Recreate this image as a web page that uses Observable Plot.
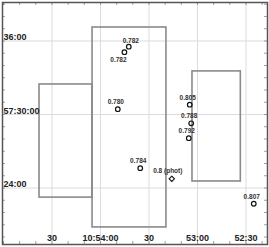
<!DOCTYPE html>
<html><head><meta charset="utf-8">
<script src="https://cdn.jsdelivr.net/npm/d3@7"></script>
<script src="https://cdn.jsdelivr.net/npm/@observablehq/plot@0.6"></script>
<style>
html,body{margin:0;padding:0;background:#fff;}
svg{display:block;font-family:"Liberation Sans",Arial,sans-serif;}
</style></head>
<body>
<div id="chart"></div>
<script>
// Targets (RA, Dec, redshift label)
const pointRA  = ["10:53:42.5","10:53:45.2","10:53:49.3","10:53:35.4","10:53:04.8","10:53:03.9","10:53:05.4","10:52:25.2"];
const pointDec = ["57:35:32","57:35:05","57:30:26","57:25:37","57:30:48","57:29:17","57:28:04","57:22:43"];
const pointLabel = ["0.782","0.782","0.780","0.784","0.805","0.788","0.792","0.807"];
// photometric source
const photRA = ["10:53:15.9"];
const photDec = ["57:24:45"];
const photLabel = ["0.8 (phot)"];
// field outlines
const fieldRA1 = ["10:54:37.7","10:54:04.9","10:53:03.1"];
const fieldRA2 = ["10:54:05.0","10:53:19.2","10:52:33.2"];
const fieldDec1 = ["57:23:13","57:20:47","57:24:32"];
const fieldDec2 = ["57:32:27","57:37:06","57:33:31"];
// axis ticks
const xTickRA = ["10:54:30","10:54:00","10:53:30","10:53:00","10:52:30"];
const xTickLabel = ["30","10:54:00","30","53:00","52:30"];
const yTickDec = ["57:36:00","57:30:00","57:24:00"];
const yTickLabel = ["36:00","57:30:00","24:00"];

const raSec = s => { const [h,m,x] = s.split(":").map(Number); return h*3600 + m*60 + x; };
const decMin = s => { const [d,m,x] = s.split(":").map(Number); return d*60 + m + x/60; };

const pts = pointRA.map((r,i) => ({x: raSec(r), y: decMin(pointDec[i]), label: pointLabel[i], i}));
const phot = photRA.map((r,i) => ({x: raSec(r), y: decMin(photDec[i]), label: photLabel[i]}));
const fields = fieldRA1.map((r,i) => ({x1: raSec(r), x2: raSec(fieldRA2[i]), y1: decMin(fieldDec1[i]), y2: decMin(fieldDec2[i])}));
const xt = xTickRA.map((r,i) => ({x: raSec(r), label: xTickLabel[i]}));
const yt = yTickDec.map((d,i) => ({y: decMin(d), label: yTickLabel[i]}));

const W = 269, H = 247, mL = 2, mR = 2, mT = 2, mB = 3;
const xDomain = [raSec("10:55:00.6"), raSec("10:52:16.7")];
const yDomain = [decMin("57:19:23.4"), decMin("57:39:08.4")];
const minorX = d3.range(Math.ceil(xDomain[1]/10)*10, xDomain[0], 10);
const minorY = d3.range(Math.ceil(yDomain[0]), yDomain[1], 1);
const innerH = H - mT - mB, innerW = W - mL - mR;

const chart = Plot.plot({
  width: W, height: H,
  marginLeft: mL, marginRight: mR, marginTop: mT, marginBottom: mB,
  x: {domain: xDomain, axis: null},
  y: {domain: yDomain, axis: null},
  style: {fontFamily: "Liberation Sans, Arial, sans-serif", background: "#fff"},
  marks: [
    Plot.ruleX(xt, {x: "x", stroke: "#dcdcdc", strokeWidth: 1}),
    Plot.ruleY(yt, {y: "y", stroke: "#dcdcdc", strokeWidth: 1}),
    Plot.ruleX(minorX, {stroke: "#888", strokeWidth: 0.8, insetBottom: innerH - 3}),
    Plot.ruleX(minorX, {stroke: "#888", strokeWidth: 0.8, insetTop: innerH - 3}),
    Plot.ruleY(minorY, {stroke: "#888", strokeWidth: 0.8, insetRight: innerW - 3}),
    Plot.ruleY(minorY, {stroke: "#888", strokeWidth: 0.8, insetLeft: innerW - 3}),
    Plot.rect(fields, {x1: "x1", x2: "x2", y1: "y1", y2: "y2", fill: "none", stroke: "#8a8a8a", strokeWidth: 1.6}),
    Plot.dot(pts, {x: "x", y: "y", r: 2.3, stroke: "#111", strokeWidth: 1.2, fill: "none"}),
    Plot.dot(phot, {x: "x", y: "y", r: 2.4, symbol: "diamond2", stroke: "#111", strokeWidth: 1.1, fill: "none"}),
    Plot.text(pts.filter(d => d.i > 1), {x: "x", y: "y", text: "label", dx: -2, dy: -7, fontSize: 6.5, fontWeight: 600, fill: "#333"}),
    Plot.text(pts.filter(d => d.i === 0), {x: "x", y: "y", text: "label", dx: 2, dy: -6, fontSize: 6.5, fontWeight: 600, fill: "#333"}),
    Plot.text(pts.filter(d => d.i === 1), {x: "x", y: "y", text: "label", dx: -6, dy: 7.5, fontSize: 6.5, fontWeight: 600, fill: "#333"}),
    Plot.text(phot, {x: "x", y: "y", text: "label", dx: -4, dy: -8, fontSize: 6.5, fontWeight: 600, fill: "#333"}),
    Plot.text(xt, {x: "x", frameAnchor: "bottom", text: "label", dy: -6, lineAnchor: "middle", fontSize: 9, fontWeight: 700, fill: "#222"}),
    Plot.text(yt, {y: "y", frameAnchor: "left", text: "label", dx: 1, dy: -3.5, textAnchor: "start", lineAnchor: "middle", fontSize: 9, fontWeight: 700, fill: "#222"}),
    Plot.frame({stroke: "#555", strokeWidth: 1.5})
  ]
});
document.getElementById("chart").appendChild(chart);
</script>
</body></html>
